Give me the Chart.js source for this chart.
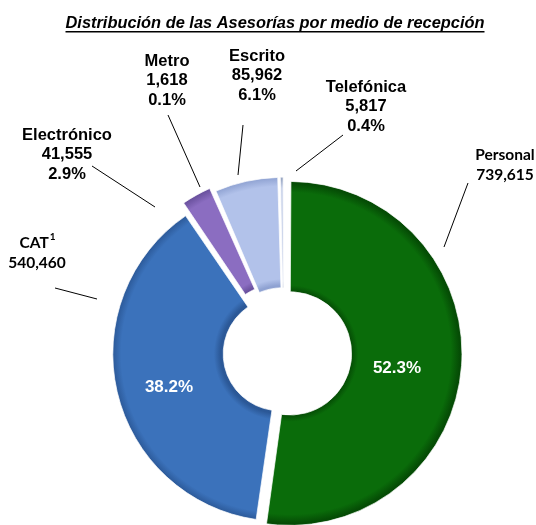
<!DOCTYPE html>
<html lang="es">
<head>
<meta charset="UTF-8">
<title>Distribución de las Asesorías por medio de recepción</title>
<script src="https://cdn.jsdelivr.net/npm/chart.js"></script>
<style>
  body { margin: 0; background: #fff; }
  #wrap { width: 536px; height: 525px; }
</style>
</head>
<body>
<div id="wrap"><canvas id="myChart" width="536" height="525"></canvas></div>
<script>
const titleText = 'Distribución de las Asesorías por medio de recepción';
const categories = ['Personal', 'CAT', 'Electrónico', 'Metro', 'Escrito', 'Telefónica'];
const values = [739615, 540460, 41555, 1618, 85962, 5817];

const total = values.reduce((a, b) => a + b, 0);
const percents = values.map(v => (v / total * 100).toFixed(1) + '%');
const amounts = values.map(v => v.toLocaleString('en-US'));

// colours: base, edge
const baseColors = ['#0a6c0a', '#3b72bb', '#8b6dc1', '#d4d4c4', '#b2c2ea', '#cbd4ea'];
const edgeColors = ['#054c05', '#2b5897', '#6a519e', '#a8a898', '#8fa2d2', '#9aa8c4'];
// explode distance in px (Chart.js moves an arc by offset / 4 and grows it by the same)
const slicePull = [6, 4, 8, 7, 6, 5];

// label placement relative to the pie centre: text, line start, line end
const bigFont = 'bold 16.5px "Liberation Sans"';
const calFont = 'bold 15.5px Lato';
const outerLabels = [
  { lines: ['Personal', null], font: calFont, text: [221, -198], from: [160, -106], to: [184, -170] },
  { lines: ['CAT', null], font: calFont, text: [-247, -110], from: [-229, -65], to: [-187, -54], sup: '1' },
  { lines: ['Electrónico', null, 'pct'], font: bigFont, text: [-217, -218], from: [-192, -187], to: [-129, -146] },
  { lines: ['Metro', null, 'pct'], font: bigFont, text: [-117, -292], from: [-116, -238], to: [-84, -166] },
  { lines: ['Escrito', null, 'pct'], font: bigFont, text: [-27, -297], from: [-41, -228], to: [-46, -178] },
  { lines: ['Telefónica', null, 'pct'], font: bigFont, text: [82, -266], from: [59, -218], to: [12, -182] }
];
const innerLabels = [
  { index: 0, at: [113, 15] },
  { index: 1, at: [-115, 34] }
];

const OUTER = 166;
const CUT = 0.335;

function sliceFill(ctx) {
  const chart = ctx.chart;
  const area = chart.chartArea;
  const i = ctx.dataIndex;
  if (!area) return baseColors[i];
  const cx = (area.left + area.right) / 2;
  const cy = (area.top + area.bottom) / 2;
  const inner = OUTER * CUT + slicePull[i];
  const outer = OUTER + slicePull[i];
  const g = chart.ctx.createRadialGradient(cx, cy, inner, cx, cy, outer);
  g.addColorStop(0, edgeColors[i]);
  g.addColorStop(0.06, baseColors[i]);
  g.addColorStop(0.9, baseColors[i]);
  g.addColorStop(0.98, edgeColors[i]);
  g.addColorStop(1, edgeColors[i]);
  return g;
}

const labelPlugin = {
  id: 'labelPlugin',
  afterDraw(chart) {
    const ctx = chart.ctx;
    const area = chart.chartArea;
    const cx = (area.left + area.right) / 2;
    const cy = (area.top + area.bottom) / 2;
    ctx.save();

    // title, underlined
    ctx.font = 'italic bold 16.4px "Liberation Sans"';
    ctx.fillStyle = '#000';
    ctx.textAlign = 'center';
    ctx.textBaseline = 'alphabetic';
    const tx = 275, ty = 28;
    ctx.fillText(titleText, tx, ty);
    const tw = ctx.measureText(titleText).width;
    ctx.fillRect(tx - tw / 2, ty + 3, tw, 1.5);

    // leader lines
    ctx.strokeStyle = '#000';
    ctx.lineWidth = 1;
    outerLabels.forEach(l => {
      ctx.beginPath();
      ctx.moveTo(cx + l.from[0], cy + l.from[1]);
      ctx.lineTo(cx + l.to[0], cy + l.to[1]);
      ctx.stroke();
    });

    // outer labels
    ctx.textBaseline = 'middle';
    outerLabels.forEach((l, i) => {
      ctx.font = l.font;
      const x = cx + l.text[0];
      let y = cy + l.text[1];
      l.lines.forEach((line, k) => {
        let s = line === null ? amounts[i] : line === 'pct' ? percents[i] : line;
        if (k === 0 && l.sup) {
          const w = ctx.measureText(s).width;
          ctx.font = 'bold 10px Lato';
          const sw = ctx.measureText(l.sup).width;
          ctx.fillText(l.sup, x + w / 2 + 1, y - 6);
          ctx.font = l.font;
          ctx.fillText(s, x - sw / 2, y);
        } else {
          ctx.fillText(s, x, y);
        }
        y += 19.5;
      });
    });

    // inner percentages
    ctx.font = 'bold 17px "Liberation Sans"';
    ctx.fillStyle = '#fff';
    innerLabels.forEach(l => {
      ctx.fillText(percents[l.index], cx + l.at[0], cy + l.at[1]);
    });
    ctx.restore();
  }
};

const chart = new Chart(document.getElementById('myChart'), {
  type: 'doughnut',
  data: {
    labels: categories,
    datasets: [{
      data: values,
      backgroundColor: sliceFill,
      borderColor: 'rgba(255,255,255,0.7)',
      borderWidth: 1,
      offset: slicePull.map(p => p * 4),
      hoverOffset: 0
    }]
  },
  options: {
    responsive: false,
    animation: false,
    radius: OUTER,
    cutout: (CUT * 100) + '%',
    layout: { padding: { left: 32, right: 0, top: 181, bottom: 0 } },
    plugins: {
      legend: { display: false },
      tooltip: { enabled: false },
      title: { display: false }
    }
  },
  plugins: [labelPlugin]
});
</script>
</body>
</html>
